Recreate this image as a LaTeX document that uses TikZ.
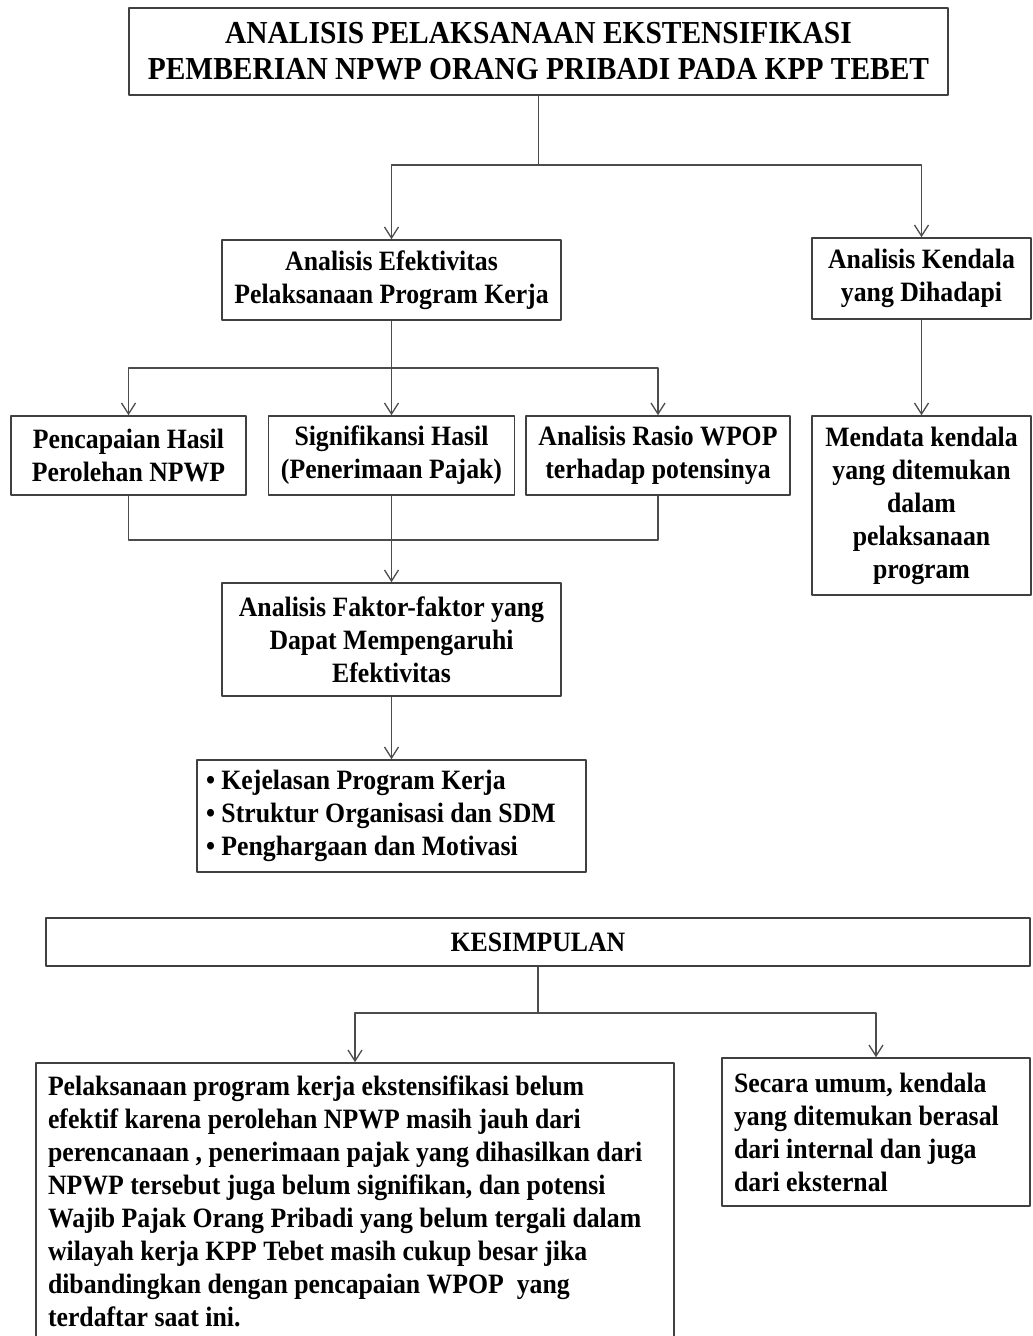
\documentclass[tikz,border=0pt]{standalone}
\usepackage{fontspec}
\setmainfont{Liberation Serif}[FakeStretch=0.92]
\usetikzlibrary{arrows.meta}
\begin{document}
\begin{tikzpicture}[x=1pt,y=-1pt,line join=round,>={Straight Barb[length=11pt,width=14pt]}]
	\tikzset{box/.style={draw=black!75,line width=1.6pt,inner sep=0pt,align=center,font=\bfseries\fontsize{28}{33}\selectfont},
		link/.style={draw=black!70,line width=1.3pt}}
	\useasboundingbox (0,0) rectangle (1033,1336);
	\node[box,minimum width=819,minimum height=87,font=\bfseries\fontsize{32}{36}\selectfont] (judul) at (538.5,51.5) {ANALISIS PELAKSANAAN EKSTENSIFIKASI\\PEMBERIAN NPWP ORANG PRIBADI PADA KPP TEBET};
	\node[box,minimum width=339,minimum height=80] (efek) at (391.5,280) {Analisis Efektivitas\\Pelaksanaan Program Kerja};
	\node[box,minimum width=219,minimum height=81] (kend) at (921.5,278.5) {Analisis Kendala\\yang Dihadapi};
	\node[box,minimum width=235,minimum height=79] (hasil) at (128.5,455.5) {Pencapaian Hasil\\Perolehan NPWP};
	\node[box,minimum width=246,minimum height=79] (sign) at (391.5,455.5) {Signifikansi Hasil\\(Penerimaan Pajak)};
	\node[box,minimum width=264,minimum height=79] (rasio) at (658,455.5) {Analisis Rasio WPOP\\terhadap potensinya};
	\node[box,minimum width=219,minimum height=179] (data) at (921.5,505.5) {Mendata kendala\\yang ditemukan\\dalam\\pelaksanaan\\program};
	\node[box,minimum width=339,minimum height=113] (faktor) at (391.5,639.5) {Analisis Faktor-faktor yang\\Dapat Mempengaruhi\\Efektivitas};
	\node[box,minimum width=389,minimum height=112,align=flush left,text width=371] (poin) at (391.5,816) {\textbullet\ Kejelasan Program Kerja\\\textbullet\ Struktur Organisasi dan SDM\\\textbullet\ Penghargaan dan Motivasi};
	\node[box,minimum width=984,minimum height=48] (simpul) at (538,942) {KESIMPULAN};
	\node[box,minimum width=638,minimum height=277,align=flush left,text width=614] (simp1) at (355,1201.5) {Pelaksanaan program kerja ekstensifikasi belum\\efektif karena perolehan NPWP masih jauh dari\\perencanaan , penerimaan pajak yang dihasilkan dari\\NPWP tersebut juga belum signifikan, dan potensi\\Wajib Pajak Orang Pribadi yang belum tergali dalam\\wilayah kerja KPP Tebet masih cukup besar jika\\dibandingkan dengan pencapaian WPOP\ \ yang\\terdaftar saat ini.};
	\node[box,minimum width=308,minimum height=148,align=flush left,text width=284] (simp2) at (876,1132) {Secara umum, kendala\\yang ditemukan berasal\\dari internal dan juga\\dari eksternal};
	\coordinate (j1) at (judul.south |- 0,165);
	\coordinate (j2) at (efek.south |- 0,368);
	\coordinate (m1) at (hasil.south |- 0,540);
	\coordinate (m3) at (rasio.south |- 0,540);
	\coordinate (j3) at (simpul.south |- 0,1013);
	\draw[link] (judul.south) -- (j1);
	\draw[link,->] (j1) -| (efek.north);
	\draw[link,->] (j1) -| (kend.north);
	\draw[link] (efek.south) -- (j2);
	\draw[link,->] (j2) -| (hasil.north);
	\draw[link,->] (j2) -- (sign.north);
	\draw[link,->] (j2) -| (rasio.north);
	\draw[link,->] (kend.south) -- (data.north);
	\draw[link] (hasil.south) -- (m1) -- (m3) -- (rasio.south);
	\draw[link,->] (sign.south) -- (faktor.north);
	\draw[link,->] (faktor.south) -- (poin.north);
	\draw[link] (simpul.south) -- (j3);
	\draw[link,->] (j3) -| (simp1.north);
	\draw[link,->] (j3) -| (simp2.north);
\end{tikzpicture}
\end{document}
